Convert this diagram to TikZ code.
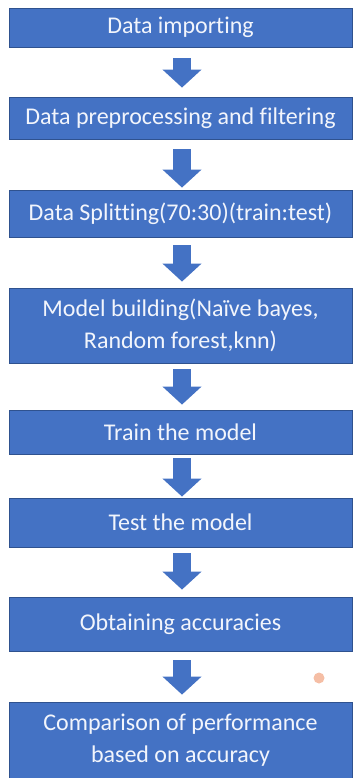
\documentclass[tikz,border=0pt]{standalone}
\usepackage{fontspec}
\setmainfont[Ligatures={NoCommon}]{Carlito}
\usetikzlibrary{arrows.meta}
\definecolor{boxblue}{HTML}{4472C4}
\definecolor{boxedge}{HTML}{2F528F}
\definecolor{boxtext}{HTML}{F2F5FC}
\definecolor{dotorange}{RGB}{245,190,165}
\tikzset{
  stepbox/.style={draw=boxedge, line width=0.8pt, fill=boxblue, text=boxtext,
    minimum width=343pt, inner sep=0pt, align=center,
    font=\fontsize{24}{32}\selectfont},
  blockarrow/.style={draw=boxblue, line width=18pt,
    -{Triangle[width=38pt,length=18pt]}}
}
\begin{document}
\begin{tikzpicture}[x=1pt,y=-1pt]
\useasboundingbox (0,0) rectangle (353,778);
\node[stepbox, minimum height=39pt] (b1) at (180.5,27.5) {Data importing};
\node[stepbox, minimum height=42pt] (b2) at (180.5,118) {Data preprocessing and filtering};
\node[stepbox, minimum height=47pt] (b3) at (180.5,213.5) {Data Splitting(70:30)(train:test)};
\node[stepbox, minimum height=75pt] (b4) at (180.5,325.5) {Model building(Naïve bayes,\\Random forest,knn)};
\node[stepbox, minimum height=44pt] (b5) at (180.5,432) {Train the model};
\node[stepbox, minimum height=49pt] (b6) at (180.5,522.5) {Test the model};
\node[stepbox, minimum height=54pt] (b7) at (180.5,624) {Obtaining accuracies};
\node[stepbox, minimum height=76pt] (b8) at (180.5,740) {Comparison of performance\\based on accuracy};
\draw[blockarrow, shorten <=11pt, shorten >=9pt] ([xshift=1.5pt]b1.south) -- ([xshift=1.5pt]b2.north);
\draw[blockarrow, shorten <=10pt, shorten >=2pt] ([xshift=1.5pt]b2.south) -- ([xshift=1.5pt]b3.north);
\draw[blockarrow, shorten <=8pt, shorten >=6pt] ([xshift=1.5pt]b3.south) -- ([xshift=1.5pt]b4.north);
\draw[blockarrow, shorten <=6pt, shorten >=5pt] ([xshift=1.5pt]b4.south) -- ([xshift=1.5pt]b5.north);
\draw[blockarrow, shorten <=4pt, shorten >=1pt] ([xshift=1.5pt]b5.south) -- ([xshift=1.5pt]b6.north);
\draw[blockarrow, shorten <=6pt, shorten >=7pt] ([xshift=1.5pt]b6.south) -- ([xshift=1.5pt]b7.north);
\draw[blockarrow, shorten <=9pt, shorten >=7pt] ([xshift=1.5pt]b7.south) -- ([xshift=1.5pt]b8.north);
\fill[dotorange] (319,678) circle (5.5pt);
\end{tikzpicture}
\end{document}
